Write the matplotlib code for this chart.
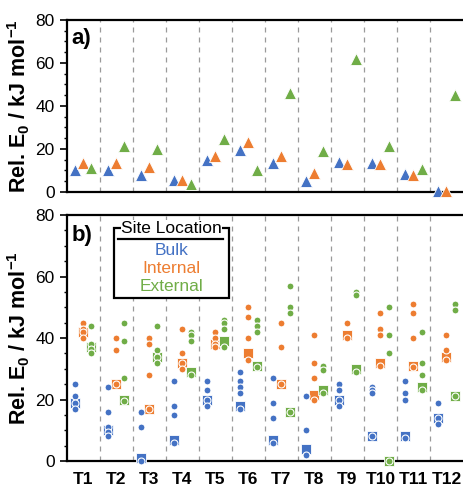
import matplotlib
matplotlib.use('Agg')
import matplotlib.pyplot as plt
from matplotlib.patches import Rectangle
from matplotlib.lines import Line2D

plt.rcParams['font.family'] = ['Liberation Sans', 'DejaVu Sans']
plt.rcParams['mathtext.fontset'] = 'custom'
plt.rcParams['mathtext.rm'] = 'Liberation Sans'
plt.rcParams['mathtext.bf'] = 'Liberation Sans:bold'

labels = ['T%d' % i for i in range(1, 13)]
sites = ['Bulk', 'Internal', 'External']
colors = ['#4472C4', '#ED7D31', '#70AD47']

# panel a) one value per site
a_bulk = [10.1, 10.1, 7.8, 5.4, 14.7, 19.4, 13.7, 5.1, 14.0, 13.5, 8.2, 0.4]
a_internal = [13.7, 13.5, 11.6, 5.4, 16.6, 23.3, 16.7, 8.6, 13.2, 12.9, 7.8, 0.4]
a_external = [11.3, 21.4, 19.9, 3.9, 24.8, 10.4, 45.8, 18.9, 61.6, 21.4, 10.9, 45.0]

# panel b) squares
b_bulk_sq = [19, 10, 1, 7, 20, 18, 7, 4, 20, 8, 8, 14]
b_internal_sq = [42, 25, 17, 32, 38, 35, 25, 21.5, 41, 32, 31, 34]
b_external_sq = [37, 20, 34, 29, 39, 31, 16, 23, 30, 0, 24, 21]

# panel b) individual points
b_bulk_pts = [[25, 21, 19, 17], [24, 16, 11, 9.5, 8], [16, 11, 0], [26, 18, 15, 6],
              [26, 23, 20, 18], [29, 26, 24, 22, 17], [27, 19, 14, 6], [21, 10, 2],
              [25, 23, 20, 18], [24, 23, 22, 8], [26, 22, 20, 7.5], [19, 14, 12]]
b_internal_pts = [[45, 43, 42, 40], [40, 36, 25], [40, 38, 28, 17], [43, 35, 32, 30],
                  [42, 40, 38, 37], [50, 47, 40, 33], [45, 37, 25], [41, 32, 27, 20],
                  [45, 40], [48, 43, 41, 31], [51, 48, 40, 30.5], [41, 36, 33]]
b_external_pts = [[44, 38, 36.5, 35], [45, 39, 27, 19.5], [44, 36, 34, 32], [42, 41, 39, 28],
                  [46, 45, 43, 37], [46, 44, 42, 30.5], [57, 50, 48, 16], [31, 29.5, 22],
                  [55, 54, 29], [50, 41, 35, 0], [42, 32, 28, 23], [51, 49, 21]]

offsets = [-0.26, 0.0, 0.25]
xs = list(range(1, 13))

fig = plt.figure(figsize=(4.63, 4.86), dpi=100)
axa = fig.add_axes([0.144, 0.605, 0.856, 0.354])
axb = fig.add_axes([0.144, 0.0514, 0.856, 0.506])


def style(ax):
    ax.set_xlim(0.5, 12.5)
    ax.set_ylim(0, 80)
    ax.set_yticks([0, 20, 40, 60, 80])
    ax.set_yticks(range(0, 81, 5), minor=True)
    ax.tick_params(axis='y', which='major', length=5, width=1.2, labelsize=12.5, direction='out')
    ax.tick_params(axis='y', which='minor', length=2.5, width=1.0, direction='out')
    ax.tick_params(axis='x', length=0)
    for s in ['top', 'bottom', 'left']:
        ax.spines[s].set_linewidth(1.6)
    ax.spines['right'].set_visible(False)
    for b in range(1, 12):
        ax.axvline(b + 0.5, color='#9a9a9a', ls=(0, (4, 4)), lw=0.9, zorder=0)
    ax.set_ylabel(r'Rel. E$_\mathbf{0}$ / kJ mol$^\mathbf{-1}$', fontsize=15.5, fontweight='bold')
    ax.yaxis.set_label_coords(-0.088, 0.5)


style(axa)
style(axb)

for vals, off, c in zip([a_bulk, a_internal, a_external], offsets, colors):
    axa.plot([x + off for x in xs], vals, '^', ms=8, color=c, mec='white', mew=0.6,
             ls='none', clip_on=False, zorder=3)
axa.set_xticks(xs)
axa.set_xticklabels([])
axa.text(0.013, 0.955, 'a)', transform=axa.transAxes, fontsize=16, fontweight='bold', va='top')

sq_sets = [b_bulk_sq, b_internal_sq, b_external_sq]
pt_sets = [b_bulk_pts, b_internal_pts, b_external_pts]
for sq, pts, off, c in zip(sq_sets, pt_sets, offsets, colors):
    axb.plot([x + off for x in xs], sq, 's', ms=6.5, color=c, mec='white', mew=0.6,
             ls='none', clip_on=False, zorder=3)
    for x, p in zip(xs, pts):
        axb.plot([x + off] * len(p), p, 'o', ms=5, color=c, mec='white', mew=0.8,
                 ls='none', clip_on=False, zorder=4)

axb.set_xticks(xs)
axb.set_xticklabels(labels, fontsize=12.5, fontweight='bold')
axb.tick_params(axis='x', pad=8)
axb.text(0.013, 0.96, 'b)', transform=axb.transAxes, fontsize=16, fontweight='bold', va='top')

# legend box
axb.add_patch(Rectangle((0.120, 0.661), 0.290, 0.287, transform=axb.transAxes,
                        fc='white', ec='black', lw=1.6, zorder=6))
axb.text(0.265, 0.947, 'Site Location', transform=axb.transAxes, ha='center', va='center',
         fontsize=12.5, zorder=7,
         bbox=dict(fc='white', ec='none', pad=0.3))
axb.add_line(Line2D([0.130, 0.395], [0.902, 0.902], transform=axb.transAxes,
                    color='black', lw=1.6, zorder=7))
for name, c, y in zip(sites, colors, [0.858, 0.783, 0.709]):
    axb.text(0.265, y, name, transform=axb.transAxes, ha='center', va='center',
             fontsize=12.5, color=c, zorder=7)

plt.savefig('out.png', dpi=100)
